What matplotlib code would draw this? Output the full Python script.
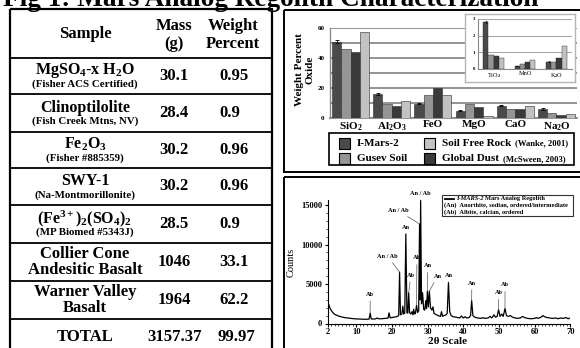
import matplotlib
matplotlib.use('Agg')
import matplotlib.pyplot as plt
from matplotlib.patches import Rectangle
from matplotlib.lines import Line2D
import numpy as np

plt.rcParams['font.family'] = ['Liberation Serif', 'DejaVu Serif']
plt.rcParams['font.weight'] = 'bold'
plt.rcParams['mathtext.fontset'] = 'custom'
plt.rcParams['mathtext.rm'] = 'Liberation Serif:bold'
plt.rcParams['mathtext.it'] = 'Liberation Serif:bold:italic'
plt.rcParams['mathtext.bf'] = 'Liberation Serif:bold'

# ---------------- data ----------------
title = "Fig 1: Mars Analog Regolith Characterization"

table_headers = ["Sample", "Mass\n(g)", "Weight\nPercent"]
samples = ["MgSO$_4$-x H$_2$O", "Clinoptilolite", "Fe$_2$O$_3$", "SWY-1",
           "(Fe$^{3+}$)$_2$(SO$_4$)$_2$", "Collier Cone\nAndesitic Basalt",
           "Warner Valley\nBasalt"]
sources = ["(Fisher ACS Certified)", "(Fish Creek Mtns, NV)", "(Fisher #885359)",
           "(Na-Montmorillonite)", "(MP Biomed #5343J)", "", ""]
masses = ["30.1", "28.4", "30.2", "30.2", "28.5", "1046", "1964"]
weights = ["0.95", "0.9", "0.96", "0.96", "0.9", "33.1", "62.2"]
total_label = "TOTAL"
total_mass = "3157.37"
total_weight = "99.97"

oxides = ["SiO$_2$", "Al$_2$O$_3$", "FeO", "MgO", "CaO", "Na$_2$O"]
imars2 = [51.0, 16.0, 9.6, 4.9, 8.2, 6.0]
gusev_soil = [46.0, 9.6, 15.6, 9.3, 6.2, 3.3]
global_dust = [44.0, 7.8, 20.0, 7.1, 6.2, 2.2]
soil_free_rock = [57.3, 11.1, 15.6, 1.6, 7.8, 2.7]
imars2_err = [1.2, 0.5, 0.5, 0.4, 0.4, 0.4]

minor_oxides = ["TiO$_2$", "MnO", "K$_2$O"]
imars2_minor = [2.8, 0.2, 0.45]
gusev_soil_minor = [0.83, 0.3, 0.41]
global_dust_minor = [0.77, 0.41, 0.68]
soil_free_rock_minor = [0.66, 0.56, 1.39]
imars2_minor_err = [0.06, 0.01, 0.02]

legend_names = ["I-Mars-2", "Gusev Soil", "Soil Free Rock", "Global Dust"]
legend_cites = ["", "", "(Wanke, 2001)", "(McSween, 2003)"]

two_theta = [2.0, 2.3, 2.6, 3.0, 3.5, 4.0, 5.0, 6.0, 7.0, 8.0, 9.0, 10.0, 11.0, 12.0,
             13.0, 13.6, 13.9, 14.2, 15.0, 15.6, 15.9, 16.3, 17.0, 18.0, 18.9, 19.2,
             19.5, 20.0, 20.5, 21.0, 21.5, 21.9, 22.15, 22.4, 22.8, 23.05, 23.3, 23.6,
             23.9, 24.2, 24.45, 24.7, 24.95, 25.3, 25.65, 25.9, 26.1, 26.35, 26.6,
             26.9, 27.2, 27.5, 27.75, 27.9, 28.05, 28.3, 28.6, 28.9, 29.2, 29.5, 29.7,
             29.95, 30.2, 30.5, 30.8, 31.2, 31.5, 31.8, 32.1, 32.5, 33.0, 33.6, 33.9,
             34.2, 34.6, 35.2, 35.5, 35.85, 36.2, 36.6, 37.2, 38.0, 38.5, 39.0, 39.5,
             40.0, 40.5, 41.0, 41.6, 42.05, 42.35, 42.7, 43.2, 44.0, 45.0, 45.5, 46.0,
             47.0, 47.5, 48.0, 48.6, 49.0, 49.5, 49.9, 50.3, 50.8, 51.2, 51.7, 52.1,
             52.6, 53.2, 53.8, 54.5, 55.0, 56.0, 56.6, 57.2, 58.0, 59.0, 60.0, 60.5,
             61.0, 61.8, 62.3, 62.8, 63.5, 64.2, 65.0, 66.0, 66.5, 67.3, 68.0, 68.8,
             69.4, 70.0]
counts = [2700, 2400, 2000, 1650, 1350, 1150, 950, 820, 730, 670, 620, 580, 560, 540,
          540, 560, 1300, 580, 560, 620, 700, 600, 600, 640, 680, 1350,
          720, 750, 800, 830, 900, 1000, 6500, 1100, 1200, 2200, 1200, 1300,
          11300, 1400, 1300, 3900, 1400, 1200, 1500, 1100, 1800, 1200, 1300,
          2300, 1400, 1600, 12600, 3000, 15600, 2500, 3900, 1800, 1700, 2900, 1900,
          4100, 2100, 4100, 2000, 1700, 2100, 1300, 1200, 1100, 1000, 900, 1500,
          900, 1000, 1100, 1300, 5200, 1500, 1000, 850, 800, 750, 700, 950,
          700, 850, 700, 750, 1000, 2900, 1000, 800, 700, 650, 750, 650,
          700, 900, 700, 1100, 800, 900, 1750, 900, 1200, 900, 1900, 1000,
          900, 1000, 800, 700, 650, 700, 900, 750, 650, 600, 650, 750,
          650, 800, 1000, 850, 750, 700, 650, 700, 600, 700, 650, 750,
          600, 700]

xrd_labels = ["Ab", "An / Ab", "An", "Ab", "Ab", "An / Ab", "An / Ab", "An", "An",
              "An", "An", "Ab", "Ab"]
label_x = [13.9, 18.8, 24.0, 25.3, 27.0, 21.7, 28.05, 30.0, 32.8, 35.9, 42.4, 49.9, 51.7]
label_y = [3700, 8500, 12100, 6100, 8300, 14300, 16500, 7300, 6000, 6100, 5100, 3900, 4900]
peak_x = [13.9, 22.15, 23.9, 24.7, 26.9, 27.75, 28.05, 29.95, 30.5, 35.85, 42.35, 49.9, 51.7]
peak_y = [1300, 6500, 11300, 3900, 2300, 12600, 15600, 4100, 4100, 5200, 2900, 1750, 1900]

xrd_legend_lines = ["(An)  Anorthite, sodian, ordered/intermediate",
                    "(Ab)  Albite, calcian, ordered"]

# ---------------- layout ----------------
W, H = 580.0, 348.0
fig = plt.figure(figsize=(W / 100, H / 100), dpi=100)
fig.patch.set_facecolor('white')


def add_ax(x0, y0, x1, y1, **kw):
    return fig.add_axes([x0 / W, 1 - y1 / H, (x1 - x0) / W, (y1 - y0) / H], **kw)


ov = add_ax(0, 0, W, H)
ov.set_xlim(0, W)
ov.set_ylim(H, 0)
ov.axis('off')
ov.patch.set_alpha(0)

fig.canvas.draw()
renderer = fig.canvas.get_renderer()

# title (scaled to width; its top is cut by the figure edge as in the source)
t = ov.text(3, 6, title, fontsize=20, ha='left', va='baseline', fontweight='bold')
w = t.get_window_extent(renderer).width
t.set_fontsize(20 * 535.0 / w)

# ---------------- table ----------------
tx0, tx1 = 10, 272
row_lines = [58, 94, 132, 168, 205, 243, 281, 319]
ov.add_patch(Rectangle((tx0, 9), tx1 - tx0, 360, fill=False, lw=1.6, ec='black'))
ov.hlines(row_lines, tx0, tx1, color='black', lw=1.3)
col_x = [85, 174, 233]
ov.text(col_x[0], 34, table_headers[0], ha='center', va='center', fontsize=12)
ov.text(col_x[1], 35, table_headers[1], ha='center', va='center', fontsize=12, linespacing=1.15)
ov.text(col_x[2], 35, table_headers[2], ha='center', va='center', fontsize=12, linespacing=1.15)

row_bounds = row_lines + [357]
for i in range(len(samples)):
    c = (row_bounds[i] + row_bounds[i + 1]) / 2.0
    if sources[i]:
        ov.text(col_x[0], c - 5.5, samples[i], ha='center', va='center', fontsize=11.5)
        ov.text(col_x[0], c + 8.5, sources[i], ha='center', va='center', fontsize=7.8)
    else:
        ov.text(col_x[0], c, samples[i], ha='center', va='center', fontsize=12,
                linespacing=1.0)
    ov.text(col_x[1], c, masses[i], ha='center', va='center', fontsize=12)
    ov.text(219, c, weights[i], ha='left', va='center', fontsize=12)
c = (row_bounds[-2] + row_bounds[-1]) / 2.0 - 1
ov.text(col_x[0], c, total_label, ha='center', va='center', fontsize=12)
ov.text(col_x[1] + 1, c, total_mass, ha='center', va='center', fontsize=12)
ov.text(236, c, total_weight, ha='center', va='center', fontsize=12)

# ---------------- right panels ----------------
ov.add_patch(Rectangle((284, 10), 320, 162, fill=False, lw=1.4, ec='black'))
ov.add_patch(Rectangle((284, 176.5), 320, 220, fill=False, lw=1.4, ec='black'))

colors = ['#4a4a4a', '#959595', '#3a3a3a', '#c2c2c2']
series = [imars2, gusev_soil, global_dust, soil_free_rock]
series_minor = [imars2_minor, gusev_soil_minor, global_dust_minor, soil_free_rock_minor]

axb = add_ax(330, 28, 577, 118)
axb.patch.set_alpha(0)
x = np.arange(len(oxides))
bw = 0.225
for k, (vals, col) in enumerate(zip(series, colors)):
    axb.bar(x + (k - 1.5) * bw, vals, bw, color=col, edgecolor='#2a2a2a', lw=0.4, zorder=3)
axb.errorbar(x - 1.5 * bw, imars2, yerr=imars2_err, fmt='none', ecolor='black',
             elinewidth=0.6, capsize=1.2, capthick=0.6, zorder=4)
axb.set_xlim(-0.5, len(oxides) - 0.5)
axb.set_ylim(0, 60)
axb.set_yticks([0, 20, 40, 60])
axb.set_yticks([10, 30, 50], minor=True)
axb.grid(True, axis='y', which='both', color='#8a8a8a', lw=1.3, zorder=0)
axb.set_axisbelow(True)
for s in ['top', 'right']:
    axb.spines[s].set_visible(False)
axb.spines['left'].set_color('#8a8a8a')
axb.spines['left'].set_linewidth(1.0)
axb.spines['bottom'].set_color('#8a8a8a')
axb.spines['bottom'].set_linewidth(1.3)
axb.tick_params(axis='y', which='both', length=0, labelsize=5, pad=4)
axb.set_xticks(x)
axb.set_xticklabels(oxides, fontsize=8)
axb.tick_params(axis='x', length=0, pad=1.5)
ov.text(305, 70, "Weight Percent\nOxide", rotation=90, ha='center', va='center',
        fontsize=8, linespacing=1.15)

# inset
fr = add_ax(465, 14, 575, 82)
fr.set_xticks([])
fr.set_yticks([])
for s in fr.spines.values():
    s.set_color('#b5b5b5')
    s.set_linewidth(1.0)
axi = add_ax(478, 19, 572, 69)
axi.patch.set_alpha(0)
xi = np.arange(len(minor_oxides))
bwi = 0.165
for k, (vals, col) in enumerate(zip(series_minor, colors)):
    axi.bar(xi + (k - 1.5) * bwi, vals, bwi, color=col, edgecolor='#2a2a2a', lw=0.3, zorder=3)
axi.errorbar(xi - 1.5 * bwi, imars2_minor, yerr=imars2_minor_err, fmt='none',
             ecolor='black', elinewidth=0.4, capsize=0.8, capthick=0.4, zorder=4)
axi.set_xlim(-0.5, len(minor_oxides) - 0.5)
axi.set_ylim(0, 3)
axi.set_yticks([0, 1, 2, 3])
axi.grid(True, axis='y', color='#a8a8a8', lw=0.8, zorder=0)
axi.set_axisbelow(True)
for s in ['top', 'right']:
    axi.spines[s].set_visible(False)
axi.spines['left'].set_color('#8a8a8a')
axi.spines['left'].set_linewidth(0.8)
axi.spines['bottom'].set_color('#8a8a8a')
axi.spines['bottom'].set_linewidth(0.8)
axi.tick_params(axis='y', length=0, labelsize=3.5, pad=2)
axi.set_xticks(xi)
axi.set_xticklabels(minor_oxides, fontsize=4.5, fontweight='normal')
axi.tick_params(axis='x', length=0, pad=1.5)

# legend of bar chart (drawn by hand)
ov.add_patch(Rectangle((328.5, 133), 245, 32, fill=False, lw=1.2, ec='black'))
leg_pos = [(339, 143), (339, 158.5), (424, 143), (424, 158.5)]
leg_cols = [colors[0], colors[1], colors[3], colors[2]]
for (lx, ly), name, cite, col in zip(leg_pos, legend_names, legend_cites, leg_cols):
    ov.add_patch(Rectangle((lx, ly - 5.5), 11, 11, facecolor=col, edgecolor='black', lw=0.8))
    tt = ov.text(lx + 18, ly, name, ha='left', va='center', fontsize=8)
    if cite:
        bb = tt.get_window_extent(renderer)
        ov.text(bb.x1 + 4, ly + 0.5, cite, ha='left', va='center', fontsize=6.2)

# ---------------- XRD panel ----------------
axx = add_ax(327.7, 200.3, 570.3, 323.5)
axx.patch.set_alpha(0)
axx.plot(two_theta, counts, color='black', lw=0.9)
axx.set_xlim(2, 70)
axx.set_ylim(0, 15600)
axx.set_xticks([2, 10, 20, 30, 40, 50, 60, 70])
axx.set_xticks(np.arange(2, 71, 1), minor=True)
axx.set_yticks([0, 5000, 10000, 15000])
axx.set_yticks(np.arange(0, 15600, 1000), minor=True)
for s in ['top', 'right']:
    axx.spines[s].set_visible(False)
axx.tick_params(which='major', length=2.5, width=0.8, labelsize=6, pad=1.5)
axx.tick_params(axis='x', which='major', pad=0.8)
axx.tick_params(which='minor', length=1.2, width=0.5)
axx.set_ylabel("Counts", fontsize=7.5, labelpad=4)
ov.text(447, 341.5, "2θ Scale", ha='center', va='center', fontsize=8)
for lab, lx, ly, px, py in zip(xrd_labels, label_x, label_y, peak_x, peak_y):
    axx.annotate(lab, xy=(px, py), xytext=(lx, ly), ha='center', va='center',
                 fontsize=4.5, annotation_clip=False,
                 arrowprops=dict(arrowstyle='-', color='#555555', lw=0.5,
                                 shrinkA=1, shrinkB=0))

# XRD legend
ov.add_patch(Rectangle((442, 195), 131, 21, facecolor='white', edgecolor='#333333', lw=0.8))
ov.add_line(Line2D([444.5, 454], [198.5, 198.5], color='black', lw=1.3))
t1 = ov.text(456, 198.5, "I-MARS-2", ha='left', va='center', fontsize=4.6, style='italic')
bb = t1.get_window_extent(renderer)
ov.text(bb.x1 + 1.5, 198.5, "Mars Analog Regolith", ha='left', va='center', fontsize=4.6)
ov.text(444, 205.3, xrd_legend_lines[0], ha='left', va='center', fontsize=4.6)
ov.text(444, 212, xrd_legend_lines[1], ha='left', va='center', fontsize=4.6)

fig.savefig('out.png', dpi=100, facecolor='white')
